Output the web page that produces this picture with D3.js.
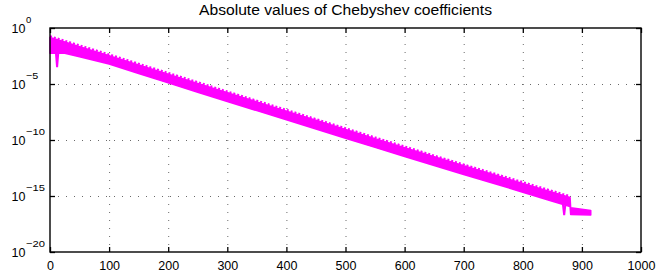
<!DOCTYPE html>
<html><head><meta charset="utf-8">
<script src="https://cdn.jsdelivr.net/npm/d3@7"></script>
<style>body{margin:0;background:#fff}svg{display:block}text{font-family:"Liberation Sans",Arial,sans-serif;fill:#000}</style>
</head><body><svg id="c" width="658" height="277"></svg>
<script>
// ---- data (log10 of |coefficient|) ----
const titleText = "Absolute values of Chebyshev coefficients";
const xTicks = [0,100,200,300,400,500,600,700,800,900,1000];
const yTickExps = [0,-5,-10,-15,-20];
const yTickLabels = ["0","\u22125","\u221210","\u221215","\u221220"];
// envelope of the oscillating coefficient sequence
const coefN     = [0,   25,   50,   100,  150,  200,  250,  300,  350,  400,  450,  500,  550,  600,   650,   700,   750,   800,   850,   880,   881,   915];
const coefUpper = [-0.85,-1.25,-1.66,-2.47,-3.30,-4.12,-4.95,-5.78,-6.60,-7.42,-8.24,-9.06,-9.88,-10.69,-11.50,-12.30,-13.08,-13.87,-14.66,-15.13,-16.05,-16.30];
const coefLower = [-2.25,-2.25,-2.56,-3.22,-4.07,-4.90,-5.73,-6.56,-7.38,-8.20,-9.02,-9.84,-10.66,-11.47,-12.28,-13.08,-13.86,-14.66,-15.47,-15.95,-16.65,-16.70];
// isolated dips below the envelope
const dips = [
  {n:[10,12,14],   v:[-2.2,-3.5,-2.2]},
  {n:[868,870,872],v:[-15.8,-16.7,-15.8]}
];

const svg = d3.select("#c");
const L=50,R=641,T=28,B=252;
const x = d3.scaleLinear().domain([0,1000]).range([L,R]);
const y = d3.scaleLog().domain([1e-20,1]).range([B,T]);
const p10 = e => Math.pow(10,e);

// grid
const grid = svg.append("g").attr("stroke","#6a6a6a").attr("stroke-width",1).attr("stroke-dasharray","1,7");
xTicks.slice(1,-1).forEach(t=>grid.append("line").attr("x1",x(t)+0.5).attr("x2",x(t)+0.5).attr("y1",T).attr("y2",B));
yTickExps.slice(1,-1).forEach(e=>grid.append("line").attr("y1",Math.round(y(p10(e)))+0.5).attr("y2",Math.round(y(p10(e)))+0.5).attr("x1",L).attr("x2",R));

// data band
const area = d3.area().x((d,i)=>x(coefN[i])).y0((d,i)=>y(p10(coefLower[i]))).y1((d,i)=>y(p10(coefUpper[i])));
svg.append("path").datum(coefN).attr("d",area).attr("fill","#ff00ff").attr("stroke","#ff00ff").attr("stroke-width",1.5).attr("stroke-linejoin","round");
const line = d3.line().x(d=>x(d[0])).y(d=>y(p10(d[1])));
dips.forEach(dp=>{
  svg.append("path").datum(dp.n.map((n,i)=>[n,dp.v[i]])).attr("d",line).attr("fill","none").attr("stroke","#ff00ff").attr("stroke-width",2);
});
// tooth texture along upper edge
const upLine = d3.line().x((d,i)=>x(coefN[i])).y((d,i)=>y(p10(coefUpper[i]))-1.2);
svg.append("path").datum(coefN.slice(0,20)).attr("d",upLine).attr("fill","none").attr("stroke","#ff00ff").attr("stroke-width",2.2).attr("stroke-dasharray","2,2");

// axes
const ax = (g,a)=>g.call(a).call(s=>s.select(".domain").remove());
ax(svg.append("g").attr("transform",`translate(0,${B})`),
   d3.axisBottom(x).tickValues(xTicks).tickSizeInner(-5).tickSizeOuter(0).tickPadding(9).tickFormat(d3.format("d")));
ax(svg.append("g").attr("transform",`translate(0,${T})`),
   d3.axisTop(x).tickValues(xTicks).tickSizeInner(-5).tickSizeOuter(0).tickFormat(""));
ax(svg.append("g").attr("transform",`translate(${L},0)`),
   d3.axisLeft(y).tickValues(yTickExps.map(p10)).tickSizeInner(-5).tickSizeOuter(0).tickFormat(""));
ax(svg.append("g").attr("transform",`translate(${R},0)`),
   d3.axisRight(y).tickValues(yTickExps.map(p10)).tickSizeInner(-5).tickSizeOuter(0).tickFormat(""));
svg.selectAll(".tick line").attr("stroke","#000").attr("stroke-width",1.3);
svg.selectAll(".tick text").attr("font-size",12.5).attr("font-family","Liberation Sans, Arial, sans-serif");

// y labels 10^e
yTickExps.forEach((e,i)=>{
  const yy = y(p10(e));
  svg.append("text").attr("x",11.5).attr("y",yy+4.6).attr("font-size",12.5).text("10");
  const ex = svg.append("text").attr("x",26).attr("y",yy-4.8).attr("font-size",9.5).text(yTickLabels[i]);
  if(i>0) ex.attr("textLength", i===1?12.3:19).attr("lengthAdjust","spacingAndGlyphs");
});

// box
svg.append("rect").attr("x",L).attr("y",T).attr("width",R-L).attr("height",B-T).attr("fill","none").attr("stroke","#000").attr("stroke-width",1.4);

// title
svg.append("text").attr("x",(L+R)/2).attr("y",15).attr("text-anchor","middle").attr("font-size",14)
  .attr("textLength",293).attr("lengthAdjust","spacingAndGlyphs").text(titleText);
</script></body></html>
